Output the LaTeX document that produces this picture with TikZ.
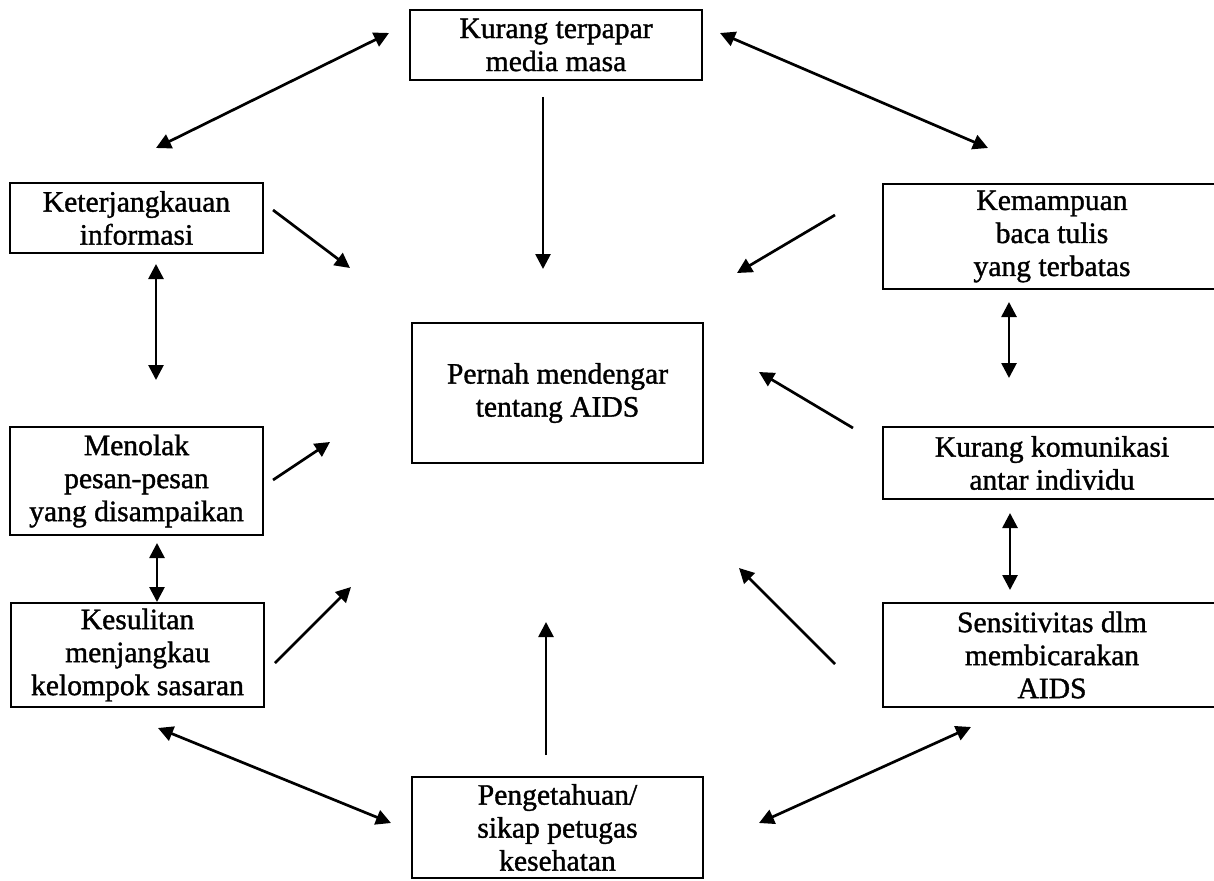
\documentclass[tikz,border=0pt]{standalone}
\usepackage{fontspec}
\setmainfont{Liberation Serif}[FakeBold=1.2]
\usetikzlibrary{arrows.meta}
\tikzset{
  box/.style={draw=black, line width=2.2pt, inner sep=0pt, align=center,
    font=\fontsize{29.6}{33}\selectfont},
  conn/.style={line width=2.7pt, draw=black},
  one/.style={conn, -{Triangle[length=15pt,width=15pt]}},
  two/.style={conn, {Triangle[length=15pt,width=15pt]}-{Triangle[length=15pt,width=15pt]}}
}
\begin{document}
\begin{tikzpicture}[x=1pt,y=-1pt]
\useasboundingbox (0,0) rectangle (1214,880);
\clip (0,0) rectangle (1214,880);
% boxes
\node[box, minimum width=292pt, minimum height=70pt] (media) at (556,45) {Kurang terpapar\\media masa};
\node[box, minimum width=253pt, minimum height=70pt] (info) at (136.5,218) {Keterjangkauan\\informasi};
\node[box, minimum width=338pt, minimum height=105pt] (baca) at (1052,236.5) {Kemampuan\\baca tulis\\yang terbatas};
\node[box, minimum width=291pt, minimum height=140pt] (aids) at (557.5,393) {Pernah mendengar\\tentang AIDS};
\node[box, minimum width=253pt, minimum height=108pt] (tolak) at (136.5,481) {Menolak\\pesan-pesan\\yang disampaikan};
\node[box, minimum width=338pt, minimum height=72pt] (kom) at (1052,463) {Kurang komunikasi\\antar individu};
\node[box, minimum width=253pt, minimum height=104pt] (sulit) at (137.5,655) {Kesulitan\\menjangkau\\kelompok sasaran};
\node[box, minimum width=338pt, minimum height=104pt] (sens) at (1052,655) {Sensitivitas dlm\\membicarakan\\AIDS};
\node[box, minimum width=291pt, minimum height=101pt] (tahu) at (557.5,827.5) {Pengetahuan/\\sikap petugas\\kesehatan};
% connector end points
\coordinate (a1s) at (389,33);  \coordinate (a1e) at (156,148);
\coordinate (a2s) at (720,33);  \coordinate (a2e) at (988,148);
\coordinate (a3s) at (543,97);  \coordinate (a3e) at (543,269);
\coordinate (a4s) at (273,210); \coordinate (a4e) at (350,268);
\coordinate (a5s) at (835,215); \coordinate (a5e) at (737,273);
\coordinate (a6s) at (156,264); \coordinate (a6e) at (156,380);
\coordinate (a7s) at (1009,302); \coordinate (a7e) at (1009,378);
\coordinate (a8s) at (273,480); \coordinate (a8e) at (330,442);
\coordinate (a9s) at (853,428); \coordinate (a9e) at (759,372);
\coordinate (a10s) at (157,543); \coordinate (a10e) at (157,602);
\coordinate (a11s) at (1010,513); \coordinate (a11e) at (1010,590);
\coordinate (a12s) at (275,663); \coordinate (a12e) at (351,587);
\coordinate (a13s) at (835,664); \coordinate (a13e) at (739,568);
\coordinate (a14s) at (546,755); \coordinate (a14e) at (546,622);
\coordinate (a15s) at (158,728); \coordinate (a15e) at (391,823);
\coordinate (a16s) at (971,727); \coordinate (a16e) at (759,823);
% connectors
\draw[two] (a1s) -- (a1e);
\draw[two] (a2s) -- (a2e);
\draw[one] (a3s) -- (a3e);
\draw[one] (a4s) -- (a4e);
\draw[one] (a5s) -- (a5e);
\draw[two] (a6s) -- (a6e);
\draw[two] (a7s) -- (a7e);
\draw[one] (a8s) -- (a8e);
\draw[one] (a9s) -- (a9e);
\draw[two] (a10s) -- (a10e);
\draw[two] (a11s) -- (a11e);
\draw[one] (a12s) -- (a12e);
\draw[one] (a13s) -- (a13e);
\draw[one] (a14s) -- (a14e);
\draw[two] (a15s) -- (a15e);
\draw[two] (a16s) -- (a16e);
\end{tikzpicture}
\end{document}
